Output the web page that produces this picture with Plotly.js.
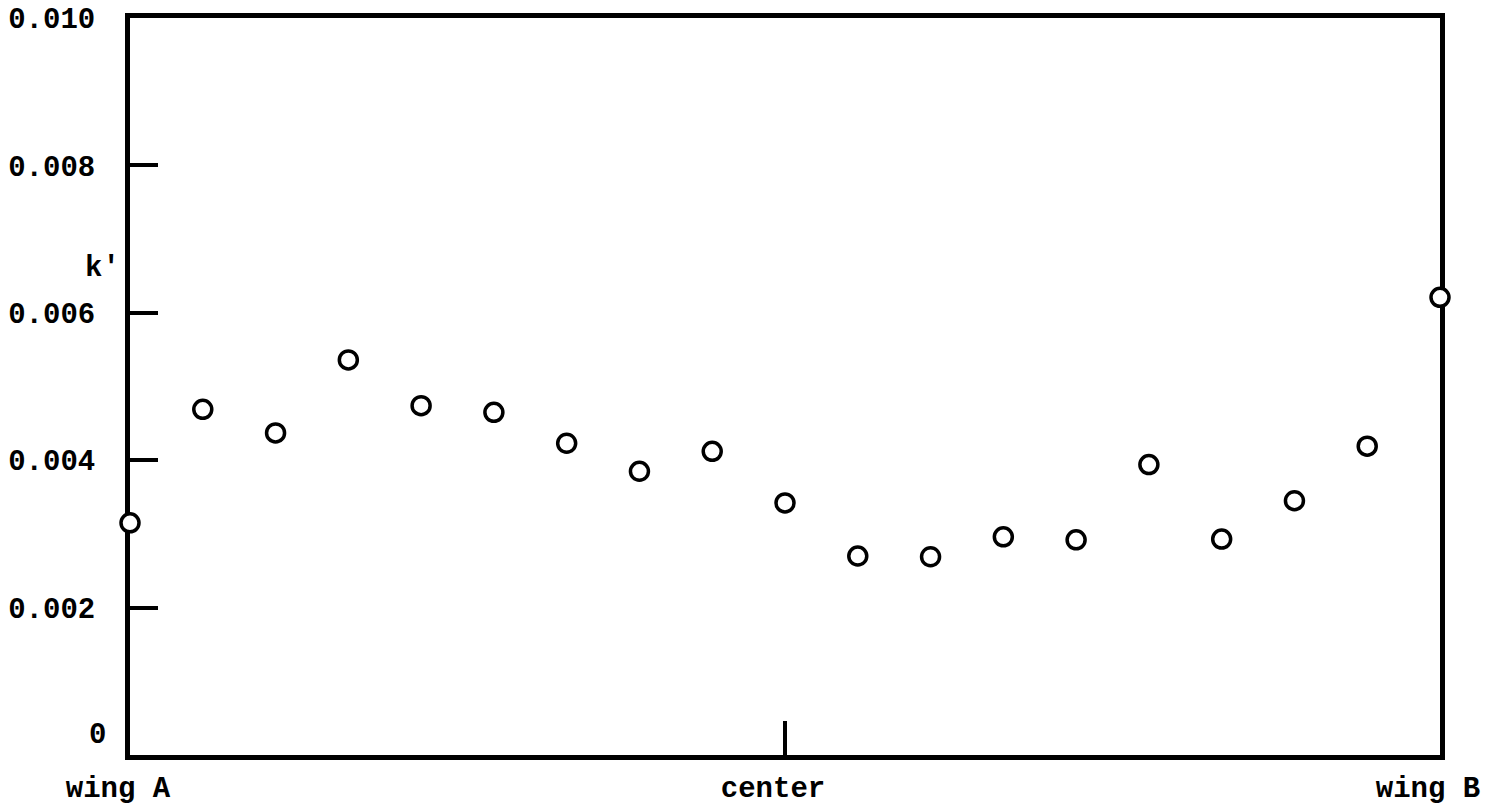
<!DOCTYPE html>
<html>
<head>
<meta charset="utf-8">
<script src="https://cdn.plot.ly/plotly-3.0.1.min.js"></script>
<style>
html,body{margin:0;padding:0;background:#fff;}
#chart{width:1488px;height:806px;}
</style>
</head>
<body>
<div id="chart"></div>
<script>
// Positions along the sample, wing A (0) -> center (9) -> wing B (18)
const positions = [0,1,2,3,4,5,6,7,8,9,10,11,12,13,14,15,16,17,18];
// k' values
const kValues = [0.00315,0.00469,0.00437,0.00536,0.00474,0.00465,0.00423,0.00385,0.00412,0.00342,
                 0.00270,0.00269,0.00296,0.00292,0.00394,0.00293,0.00345,0.00419,0.00621];
const xTickVals = [0, 9, 18];
const xTickText = ['wing A', 'center', 'wing B'];
const yTickVals = [0, 0.002, 0.004, 0.006, 0.008, 0.010];
const yTickText = ['0', '0.002', '0.004', '0.006', '0.008', '0.010'];
const yTitle = "k'";

const FONT = "'Courier New', 'Liberation Mono', monospace";
const TF = {family: FONT, size: 29, color: '#000', weight: 'bold'};

const trace = {
  x: positions,
  y: kValues,
  type: 'scatter',
  mode: 'markers',
  cliponaxis: false,
  marker: {symbol: 'circle', size: 18, color: '#ffffff', line: {color: '#000000', width: 3.5}},
  hoverinfo: 'x+y'
};

const layout = {
  width: 1488, height: 806,
  margin: {l: 130, r: 48, t: 18, b: 51},
  paper_bgcolor: '#ffffff', plot_bgcolor: '#ffffff',
  showlegend: false,
  font: TF,
  xaxis: {
    range: [0, 18],
    tickvals: xTickVals, ticktext: xTickText,
    ticks: 'inside', ticklen: 34, tickwidth: 4, tickcolor: '#000',
    ticklabelstandoff: 2,
    ticklabelshift: -12,
    ticklabeloverflow: 'allow',
    showline: true, linecolor: '#000', linewidth: 5, mirror: true,
    showgrid: false, zeroline: false, layer: 'below traces',
    tickfont: TF
  },
  yaxis: {
    range: [0, 0.010],
    tickvals: yTickVals.slice(1), ticktext: yTickText.slice(1),
    ticks: 'inside', ticklen: 28, tickwidth: 4, tickcolor: '#000',
    ticklabelstandoff: 24,
    showline: true, linecolor: '#000', linewidth: 5, mirror: true,
    showgrid: false, zeroline: false, layer: 'below traces',
    tickfont: TF
  },
  annotations: [
    {xref: 'paper', yref: 'y', x: 0, y: yTickVals[0], text: yTickText[0],
     showarrow: false, xanchor: 'right', yanchor: 'middle', xshift: -22, yshift: 20,
     font: TF},
    {xref: 'paper', yref: 'y', x: 0, y: 0.0066, text: yTitle,
     showarrow: false, xanchor: 'left', yanchor: 'middle', xshift: -47,
     font: TF}
  ]
};

Plotly.newPlot('chart', [trace], layout, {displayModeBar: false, staticPlot: true});
</script>
</body>
</html>
